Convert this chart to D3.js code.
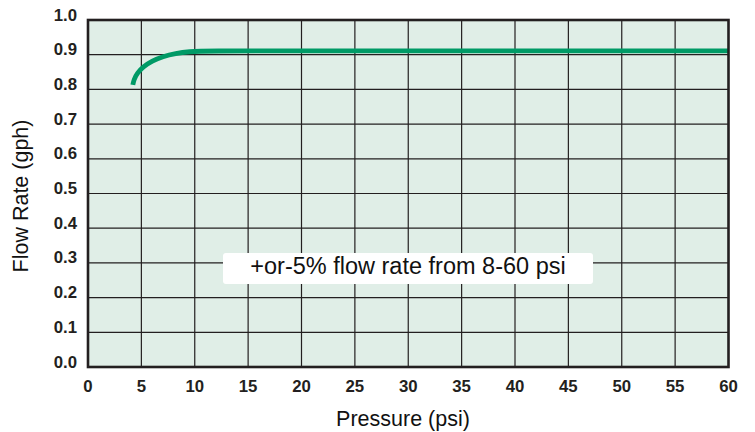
<!DOCTYPE html>
<html><head><meta charset="utf-8">
<script src="https://cdn.jsdelivr.net/npm/d3@7"></script>
<style>body{margin:0;background:#fff}svg{display:block}</style>
</head><body>
<svg id="c" width="755" height="432"></svg>
<script>
const pressure = [4.2, 4.3, 4.6, 5.2, 6.0, 7.0, 8.2, 9.5, 11, 20, 30, 40, 50, 60];
const flowRate = [0.813, 0.828, 0.847, 0.866, 0.882, 0.895, 0.904, 0.909, 0.911, 0.911, 0.911, 0.911, 0.911, 0.911];
const xTicks = [0,5,10,15,20,25,30,35,40,45,50,55,60];
const yTicks = [0,0.1,0.2,0.3,0.4,0.5,0.6,0.7,0.8,0.9,1.0];
const xTitle = "Pressure (psi)";
const yTitle = "Flow Rate (gph)";
const note = "+or-5% flow rate from 8-60 psi";

const svg = d3.select("#c");
const L = 88, R = 728.5, T = 20, B = 367;
const x = d3.scaleLinear().domain([0,60]).range([L,R]);
const y = d3.scaleLinear().domain([0,1]).range([B,T]);
const ink = "#231f20";
const font = "'Liberation Sans', Arial, Helvetica, sans-serif";

svg.append("rect").attr("x",L).attr("y",T).attr("width",R-L).attr("height",B-T).attr("fill","#e0eee7");

const g = svg.append("g");
g.selectAll("line.v").data(xTicks.slice(1,-1)).join("line")
  .attr("x1",d=>x(d)).attr("x2",d=>x(d)).attr("y1",T).attr("y2",B)
  .attr("stroke",ink).attr("stroke-width",1.2);
g.selectAll("line.h").data(yTicks.slice(1,-1)).join("line")
  .attr("y1",d=>y(d)).attr("y2",d=>y(d)).attr("x1",L).attr("x2",R)
  .attr("stroke",ink).attr("stroke-width",1.2);

// annotation box
const nb = svg.append("g");
nb.append("rect").attr("x",223).attr("y",253).attr("width",370).attr("height",31).attr("rx",3).attr("fill","#fff");
nb.append("text").attr("x",408).attr("y",273.5).attr("text-anchor","middle")
  .attr("font-family",font).attr("font-size",23.5).attr("fill","#111").text(note);

// curve
svg.append("path").datum(pressure.map((p,i)=>[p,flowRate[i]]))
  .attr("d", d3.line().x(d=>x(d[0])).y(d=>y(d[1])).curve(d3.curveBasis))
  .attr("fill","none").attr("stroke","#009a66").attr("stroke-width",4.8).attr("stroke-linecap","butt");

// border
svg.append("rect").attr("x",L).attr("y",T).attr("width",R-L).attr("height",B-T)
  .attr("fill","none").attr("stroke",ink).attr("stroke-width",2.6);

// tick labels
svg.selectAll("text.yt").data(yTicks).join("text")
  .attr("x",77).attr("y",d=>y(d)+0.5).attr("text-anchor","end")
  .attr("font-family",font).attr("font-weight","bold").attr("font-size",16.8).attr("fill",ink)
  .text(d=>d3.format(".1f")(d));
svg.selectAll("text.xt").data(xTicks).join("text")
  .attr("x",d=>x(d)).attr("y",392).attr("text-anchor","middle")
  .attr("font-family",font).attr("font-weight","bold").attr("font-size",16.8).attr("fill",ink)
  .text(d=>d);

svg.append("text").attr("x",403).attr("y",426).attr("text-anchor","middle")
  .attr("font-family",font).attr("font-size",21.5).attr("fill","#111").text(xTitle);
svg.append("text").attr("transform","translate(28,196) rotate(-90)").attr("text-anchor","middle")
  .attr("font-family",font).attr("font-size",21.5).attr("fill","#111").text(yTitle);
</script>
</body></html>
